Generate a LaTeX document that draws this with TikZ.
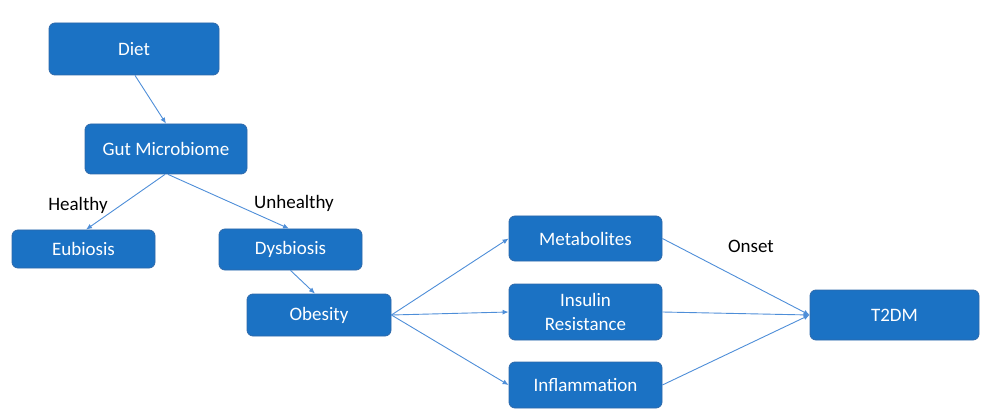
\documentclass[tikz,border=0pt]{standalone}
\usepackage{fontspec}
\setmainfont{Carlito}
\usetikzlibrary{arrows.meta}
\definecolor{boxfill}{RGB}{27,114,196}
\definecolor{boxline}{RGB}{45,105,170}
\definecolor{arrowc}{RGB}{78,142,216}
\begin{document}
\begin{tikzpicture}[x=1pt,y=-1pt,
  box/.style={draw=boxline,line width=0.8pt,fill=boxfill,rounded corners=6pt,text=white,font=\fontsize{19}{24}\selectfont,align=center,inner sep=0pt},
  lbl/.style={font=\fontsize{19}{24}\selectfont,text=black},
  conn/.style={draw=arrowc,line width=0.9pt,-{Latex[length=6pt,width=5pt]}}]
\useasboundingbox (0,0) rectangle (989,409);
\node[box,minimum width=170pt,minimum height=52pt] (diet) at (134,49) {Diet};
\node[box,minimum width=162pt,minimum height=50pt] (gut) at (166,149) {Gut Microbiome};
\node[box,minimum width=143pt,minimum height=38pt] (eub) at (83.5,249) {Eubiosis};
\node[box,minimum width=143pt,minimum height=41pt] (dys) at (290.5,249.5) {Dysbiosis};
\node[box,minimum width=144pt,minimum height=42pt] (obe) at (319,315) {Obesity};
\node[box,minimum width=153pt,minimum height=45pt] (met) at (585.5,238.5) {Metabolites};
\node[box,minimum width=153pt,minimum height=56pt] (ins) at (585.5,312) {Insulin\\Resistance};
\node[box,minimum width=153pt,minimum height=46pt] (inf) at (585.5,385) {Inflammation};
\node[box,minimum width=169pt,minimum height=50pt] (t2) at (894.5,315) {T2DM};
\node[lbl] (healthy) at (78,205) {Healthy};
\node[lbl] (unhealthy) at (294,203) {Unhealthy};
\node[lbl] (onset) at (751,246) {Onset};
\draw[conn] ([xshift=1pt]diet.south) -- (gut.north);
\draw[conn] ([xshift=-1pt]gut.south) -- ([xshift=2.5pt]eub.north);
\draw[conn] ([xshift=2pt]gut.south) -- ([xshift=-1.5pt]dys.north);
\draw[conn] (dys.south) -- ([xshift=-4pt]obe.north);
\draw[conn] (obe.east) -- (met.west);
\draw[conn] (obe.east) -- (ins.west);
\draw[conn] (obe.east) -- (inf.west);
\draw[conn] (met.east) -- (t2.west);
\draw[conn] (ins.east) -- (t2.west);
\draw[conn] (inf.east) -- (t2.west);
\end{tikzpicture}
\end{document}
